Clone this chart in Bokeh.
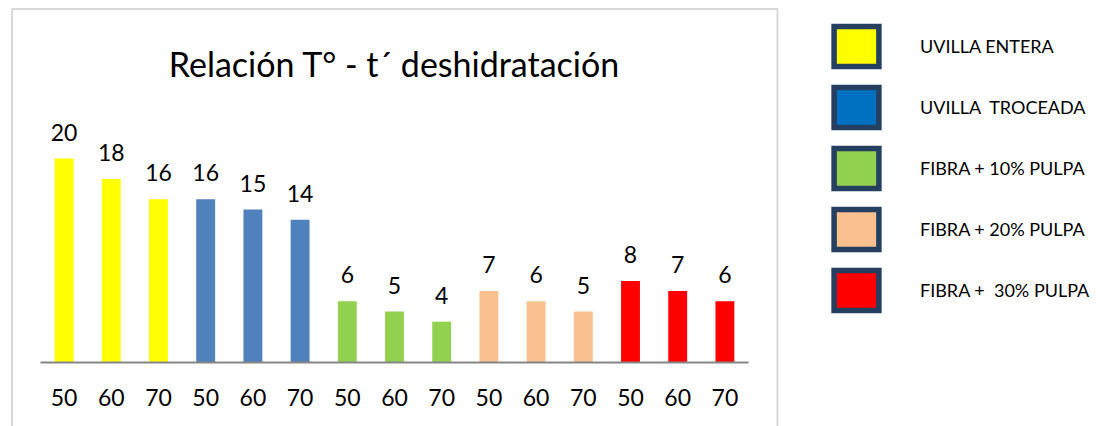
from bokeh.plotting import figure
from bokeh.models import (Range1d, FixedTicker, LabelSet, Label, ColumnDataSource,
                          Legend, LegendItem, BoxAnnotation)
from bokeh.core.properties import value
from bokeh.embed import file_html
from bokeh.resources import INLINE

title_text = "Relación T° - t´ deshidratación"
groups = ["UVILLA ENTERA", "UVILLA  TROCEADA", "FIBRA + 10% PULPA",
          "FIBRA + 20% PULPA", "FIBRA +  30% PULPA"]
temps = ["50", "60", "70", "50", "60", "70", "50", "60", "70",
         "50", "60", "70", "50", "60", "70"]
times = [20, 18, 16, 16, 15, 14, 6, 5, 4, 7, 6, 5, 8, 7, 6]
bar_colors = ["#FFFF00", "#4F81BD", "#92D050", "#FAC090", "#FF0000"]
legend_colors = ["#FFFF00", "#0070C0", "#92D050", "#FAC090", "#FF0000"]

FONT = "Lato"
W, H = 1101, 426
# pixel geometry of the chart area (page pixels)
AX_LEFT, AX_RIGHT, AX_Y = 40, 748, 362
PX_PER_UNIT_Y = 10.2

n = len(times)
xs = list(range(n))
bar_fill = [bar_colors[i // 3] for i in xs]
px_x = (AX_RIGHT - AX_LEFT) / n

def dx(px):  # page x -> data x
    return -0.5 + (px - AX_LEFT) / px_x

def dy(py):  # page y -> data y
    return (AX_Y - py) / PX_PER_UNIT_Y

src = ColumnDataSource(dict(x=xs, top=times, color=bar_fill,
                            label=[str(t) for t in times]))

p = figure(width=W, height=H, x_range=Range1d(dx(0), dx(W)),
           y_range=Range1d(dy(H), dy(0)), output_backend="svg",
           toolbar_location=None, min_border=0)
p.min_border_left = p.min_border_right = p.min_border_top = p.min_border_bottom = 0
p.outline_line_color = None
p.grid.visible = False
p.yaxis.visible = False

p.vbar(x="x", top="top", width=0.4, bottom=0, fill_color="color",
       line_color=None, source=src)

labels = LabelSet(x="x", y="top", text="label", source=src, text_align="center",
                  text_baseline="alphabetic", y_offset=18, text_font=value(FONT),
                  text_font_size="23px", text_color="#000000")
p.add_layout(labels)

ax = p.xaxis[0]
ax.fixed_location = 0
ax.bounds = (-0.5, n - 0.5)
ax.ticker = FixedTicker(ticks=xs)
ax.major_label_overrides = {i: t for i, t in zip(xs, temps)}
ax.major_tick_line_color = None
ax.minor_tick_line_color = None
ax.axis_line_color = "#868686"
ax.axis_line_width = 2
ax.major_label_text_font = FONT
ax.major_label_text_font_size = "23px"
ax.major_label_text_color = "#000000"
ax.major_label_standoff = 20

title = Label(x=(n - 1) / 2, y=dy(63), text=title_text, text_align="center",
              text_baseline="alphabetic", text_font=FONT, text_font_size="34px",
              text_color="#000000")
p.add_layout(title)

border = BoxAnnotation(left=dx(11.5), right=dx(777), top=dy(8.5), bottom=dy(H + 20),
                       fill_color=None, fill_alpha=0,
                       line_color="#7f7f7f", line_width=2)
p.add_layout(border)

items = []
for g, c in zip(groups, legend_colors):
    # off-screen proxy glyph, only used to draw the legend swatch
    r = p.rect(x=[-100], y=[-100], width=1, height=1, fill_color=c,
               line_color="#243F60", line_width=5.5, line_join="miter")
    items.append(LegendItem(label=g, renderers=[r]))

legend = Legend(items=items, location=(828, 111), glyph_width=56, glyph_height=50,
                spacing=11, label_standoff=36, padding=0, margin=0,
                border_line_color=None, background_fill_alpha=0,
                label_text_font=FONT, label_text_font_size="18px",
                label_text_color="#000000")
p.add_layout(legend)

open("out.html", "w").write(file_html(p, INLINE))
